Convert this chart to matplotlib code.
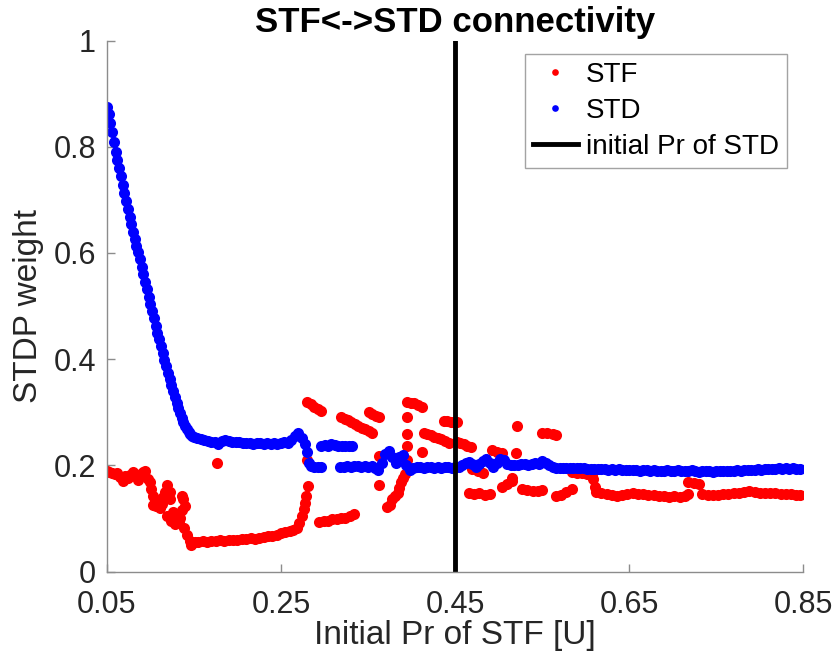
import matplotlib
matplotlib.use("Agg")
from matplotlib import pyplot as plt

plt.rcParams['font.family'] = ['Liberation Sans', 'DejaVu Sans']

# STD weights (blue)
std_x = [0.050, 0.052, 0.054, 0.056, 0.058, 0.060, 0.062, 0.064, 0.066, 0.068,
         0.070, 0.072, 0.074, 0.076, 0.078, 0.080, 0.082, 0.084, 0.086, 0.088,
         0.090, 0.092, 0.094, 0.096, 0.098, 0.100, 0.102, 0.104, 0.106, 0.108,
         0.110, 0.112, 0.114, 0.116, 0.118, 0.120, 0.122, 0.124, 0.126, 0.128,
         0.130, 0.132, 0.134, 0.136, 0.138, 0.140, 0.142, 0.144, 0.146, 0.148,
         0.150,
         0.154, 0.158, 0.162, 0.166, 0.170, 0.174, 0.178, 0.182, 0.186, 0.190,
         0.194, 0.198, 0.202, 0.206, 0.210, 0.214, 0.218, 0.222, 0.226, 0.230,
         0.234, 0.238, 0.242, 0.246, 0.250, 0.254, 0.258, 0.262, 0.266, 0.270,
         0.274, 0.278, 0.280, 0.282,
         0.284, 0.288, 0.292, 0.296,
         0.296, 0.300, 0.304, 0.308, 0.312, 0.316, 0.320, 0.324, 0.328, 0.332,
         0.318, 0.322, 0.326, 0.330, 0.334, 0.338, 0.342, 0.346, 0.350, 0.354,
         0.358, 0.362, 0.366, 0.370, 0.374, 0.378, 0.382, 0.386, 0.390, 0.394,
         0.398, 0.402, 0.406, 0.410, 0.414, 0.418, 0.422, 0.426, 0.430, 0.434,
         0.438, 0.442, 0.446, 0.450, 0.454, 0.458, 0.462, 0.466, 0.470, 0.474,
         0.478, 0.482, 0.486, 0.490, 0.494, 0.498, 0.502, 0.506, 0.510, 0.514,
         0.518, 0.522, 0.526, 0.530, 0.534, 0.538, 0.542, 0.546, 0.550, 0.554,
         0.558, 0.562, 0.566, 0.570, 0.574, 0.578, 0.582, 0.586, 0.590, 0.594,
         0.598, 0.602, 0.606, 0.610, 0.614, 0.618, 0.622, 0.626, 0.630, 0.634,
         0.638, 0.642, 0.646, 0.650, 0.654, 0.658, 0.662, 0.666, 0.670, 0.674,
         0.678, 0.682, 0.686, 0.690, 0.694, 0.698, 0.702, 0.706, 0.710, 0.714,
         0.718, 0.722, 0.726, 0.730, 0.734, 0.738, 0.742, 0.746, 0.750, 0.754,
         0.758, 0.762, 0.766, 0.770, 0.774, 0.778, 0.782, 0.786, 0.790, 0.794,
         0.798, 0.802, 0.806, 0.810, 0.814, 0.818, 0.822, 0.826, 0.830, 0.834,
         0.838, 0.842, 0.846]
std_y = [0.875, 0.862, 0.845, 0.828, 0.808, 0.790, 0.775, 0.760, 0.744, 0.728,
         0.712, 0.697, 0.683, 0.668, 0.655, 0.640, 0.627, 0.614, 0.602, 0.588,
         0.574, 0.560, 0.546, 0.532, 0.518, 0.504, 0.490, 0.477, 0.463, 0.450,
         0.438, 0.425, 0.412, 0.399, 0.387, 0.374, 0.362, 0.351, 0.340, 0.329,
         0.318, 0.308, 0.298, 0.290, 0.282, 0.275, 0.268, 0.263, 0.259, 0.256,
         0.253,
         0.251, 0.249, 0.247, 0.246, 0.245, 0.244, 0.240, 0.246, 0.247, 0.246,
         0.245, 0.245, 0.244, 0.243, 0.242, 0.243, 0.241, 0.243, 0.242, 0.241,
         0.242, 0.240, 0.242, 0.241, 0.243, 0.244, 0.243, 0.248, 0.255, 0.262,
         0.252, 0.240, 0.225, 0.205,
         0.199, 0.198, 0.198, 0.198,
         0.236, 0.238, 0.236, 0.240, 0.238, 0.236, 0.237, 0.236, 0.237, 0.236,
         0.198, 0.198, 0.199, 0.198, 0.199, 0.199, 0.198, 0.199, 0.198, 0.199,
         0.196, 0.192, 0.205, 0.222, 0.228, 0.215, 0.205, 0.215, 0.220, 0.200,
         0.192, 0.196, 0.197, 0.197, 0.196, 0.198, 0.197, 0.196, 0.197, 0.196,
         0.197, 0.197, 0.196, 0.197, 0.198, 0.200, 0.204, 0.207, 0.202, 0.198,
         0.203, 0.209, 0.212, 0.204, 0.198, 0.205, 0.213, 0.210, 0.203, 0.200,
         0.201, 0.200, 0.202, 0.203, 0.201, 0.203, 0.205, 0.203, 0.209, 0.205,
         0.200, 0.198, 0.196, 0.195, 0.195, 0.196, 0.195, 0.196, 0.195, 0.196,
         0.195, 0.194, 0.193, 0.194, 0.193, 0.194, 0.193, 0.192, 0.193, 0.192,
         0.193, 0.192, 0.191, 0.192, 0.191, 0.192, 0.190, 0.191, 0.192, 0.190,
         0.191, 0.190, 0.189, 0.190, 0.191, 0.189, 0.190, 0.191, 0.190, 0.189,
         0.190, 0.191, 0.190, 0.188, 0.189, 0.190, 0.189, 0.188, 0.189, 0.190,
         0.189, 0.190, 0.189, 0.190, 0.191, 0.190, 0.191, 0.192, 0.191, 0.192,
         0.193, 0.192, 0.193, 0.194, 0.193, 0.194, 0.195, 0.194, 0.195, 0.194,
         0.195, 0.194, 0.193]

# STF weights (red)
stf_x = [0.050, 0.053, 0.056, 0.059, 0.062, 0.065, 0.068, 0.071, 0.074, 0.077,
         0.080, 0.083, 0.086, 0.089, 0.092, 0.094, 0.097, 0.099, 0.101, 0.103,
         0.103, 0.107, 0.111, 0.115, 0.119, 0.122, 0.119, 0.124, 0.128, 0.131,
         0.136, 0.137, 0.136, 0.134, 0.139, 0.142, 0.145, 0.147,
         0.105, 0.109, 0.113, 0.117, 0.126, 0.133, 0.140, 0.122,
         0.151, 0.155, 0.160, 0.165, 0.170, 0.175, 0.180, 0.185, 0.190, 0.195,
         0.200, 0.205, 0.210, 0.215, 0.220, 0.225, 0.230, 0.235, 0.240, 0.245,
         0.250, 0.255, 0.260, 0.264, 0.268, 0.271, 0.274, 0.276, 0.278, 0.279,
         0.176, 0.281, 0.280,
         0.280, 0.284, 0.288, 0.292, 0.296,
         0.294, 0.299, 0.304, 0.309, 0.314, 0.319, 0.324, 0.329, 0.334,
         0.319, 0.323, 0.327, 0.331, 0.335, 0.339, 0.343, 0.347, 0.351, 0.354,
         0.351, 0.355, 0.359, 0.363,
         0.363, 0.363,
         0.372, 0.375, 0.378, 0.381, 0.384, 0.386, 0.388, 0.390, 0.392,
         0.395, 0.395, 0.395, 0.395,
         0.395, 0.399, 0.403, 0.407, 0.412,
         0.414, 0.418, 0.422, 0.426, 0.430, 0.434, 0.438, 0.443,
         0.412,
         0.437, 0.441, 0.445, 0.449, 0.452,
         0.452, 0.456, 0.460, 0.464, 0.468,
         0.466, 0.472, 0.478, 0.484, 0.490,
         0.470, 0.476, 0.482,
         0.492, 0.498, 0.504, 0.520, 0.521,
         0.504, 0.510, 0.515, 0.515,
         0.527, 0.533, 0.539, 0.545, 0.550,
         0.550, 0.556, 0.562, 0.566,
         0.566, 0.572, 0.578, 0.584,
         0.584, 0.590, 0.596, 0.602, 0.607, 0.609, 0.611,
         0.612, 0.618, 0.624, 0.630, 0.636, 0.642, 0.648, 0.654, 0.660, 0.666,
         0.672, 0.678, 0.684, 0.690, 0.696, 0.702, 0.708, 0.714, 0.718,
         0.718, 0.724, 0.730,
         0.734, 0.740, 0.746, 0.752, 0.758, 0.764, 0.770, 0.776, 0.782, 0.788,
         0.794, 0.800, 0.806, 0.812, 0.818, 0.824, 0.830, 0.836, 0.842, 0.846]
stf_y = [0.189, 0.187, 0.186, 0.184, 0.185, 0.178, 0.170, 0.180, 0.176, 0.182,
         0.187, 0.180, 0.172, 0.183, 0.188, 0.189, 0.175, 0.168, 0.155, 0.142,
         0.126, 0.124, 0.120, 0.140, 0.164, 0.136, 0.104, 0.095, 0.089, 0.102,
         0.142, 0.136, 0.117, 0.102, 0.082, 0.070, 0.058, 0.051,
         0.135, 0.130, 0.128, 0.150, 0.112, 0.096, 0.124, 0.150,
         0.055, 0.056, 0.057, 0.056, 0.058, 0.057, 0.059, 0.058, 0.060, 0.059,
         0.060, 0.061, 0.062, 0.063, 0.062, 0.064, 0.066, 0.067, 0.068, 0.070,
         0.073, 0.074, 0.077, 0.079, 0.082, 0.092, 0.105, 0.118, 0.130, 0.142,
         0.204, 0.161, 0.211,
         0.319, 0.315, 0.311, 0.306, 0.302,
         0.094, 0.096, 0.095, 0.099, 0.100, 0.102, 0.101, 0.105, 0.108,
         0.291, 0.288, 0.285, 0.281, 0.278, 0.275, 0.271, 0.268, 0.265, 0.262,
         0.300, 0.297, 0.294, 0.291,
         0.217, 0.164,
         0.121, 0.126, 0.136, 0.142, 0.149, 0.158, 0.168, 0.176, 0.183,
         0.291, 0.260, 0.236, 0.211,
         0.319, 0.318, 0.317, 0.314, 0.311,
         0.262, 0.259, 0.257, 0.254, 0.252, 0.249, 0.246, 0.243,
         0.226,
         0.283, 0.283, 0.282, 0.282, 0.281,
         0.245, 0.243, 0.240, 0.237, 0.234,
         0.149, 0.147, 0.148, 0.145, 0.147,
         0.193, 0.190, 0.186,
         0.230, 0.226, 0.224, 0.224, 0.274,
         0.160, 0.165, 0.170, 0.177,
         0.155, 0.153, 0.152, 0.151, 0.153,
         0.262, 0.261, 0.260, 0.258,
         0.142, 0.145, 0.150, 0.155,
         0.187, 0.186, 0.185, 0.184, 0.183, 0.175, 0.160,
         0.150, 0.148, 0.146, 0.145, 0.143, 0.144, 0.146, 0.148, 0.147, 0.146,
         0.145, 0.144, 0.143, 0.142, 0.141, 0.142, 0.141, 0.143, 0.146,
         0.168, 0.167, 0.166,
         0.146, 0.144, 0.145, 0.144, 0.146, 0.147, 0.148, 0.149, 0.150, 0.151,
         0.150, 0.149, 0.148, 0.149, 0.148, 0.147, 0.146, 0.146, 0.145, 0.145]

std_init_pr = 0.45
x_ticks = [0.05, 0.25, 0.45, 0.65, 0.85]
x_tick_labels = ["0.05", "0.25", "0.45", "0.65", "0.85"]
y_ticks = [0, 0.2, 0.4, 0.6, 0.8, 1]
y_tick_labels = ["0", "0.2", "0.4", "0.6", "0.8", "1"]

fig = plt.figure(figsize=(8.35, 6.64), dpi=100)
ax = fig.add_axes([0.128, 0.139, 0.834, 0.800])

ax.plot(stf_x, stf_y, linestyle='', marker='o', ms=8, mew=0, color='#ff0000', label='STF')
ax.plot(std_x, std_y, linestyle='', marker='o', ms=8, mew=0, color='#0000ff', label='STD')
ax.axvline(std_init_pr, color='black', lw=3.5, label='initial Pr of STD')

ax.set_xlim(0.05, 0.85)
ax.set_ylim(0, 1)
ax.set_xticks(x_ticks)
ax.set_xticklabels(x_tick_labels)
ax.set_yticks(y_ticks)
ax.set_yticklabels(y_tick_labels)

for side in ['top', 'right']:
    ax.spines[side].set_visible(False)
for side in ['left', 'bottom']:
    ax.spines[side].set_color('#8c8c8c')
    ax.spines[side].set_linewidth(1.0)
ax.tick_params(direction='in', length=6, width=1.0, color='#8c8c8c',
               labelsize=22, labelcolor='#262626')
ax.tick_params(axis='x', pad=13)
ax.tick_params(axis='y', pad=8)

ax.set_xlabel("Initial Pr of STF [U]", fontsize=24, color='#262626', labelpad=0)
ax.set_ylabel("STDP weight", fontsize=24, color='#262626', labelpad=7)
ax.set_title("STF<->STD connectivity", fontsize=25, fontweight='bold', pad=6)

leg = ax.legend(loc='upper right', bbox_to_anchor=(0.977, 0.975), fontsize=20,
                frameon=True, fancybox=False, edgecolor='#8c8c8c',
                markerscale=0.6, handlelength=1.6, borderpad=0.3,
                labelspacing=0.35, handletextpad=0.3, borderaxespad=0)
leg.get_frame().set_linewidth(1.0)

fig.savefig("out.png", dpi=100)
